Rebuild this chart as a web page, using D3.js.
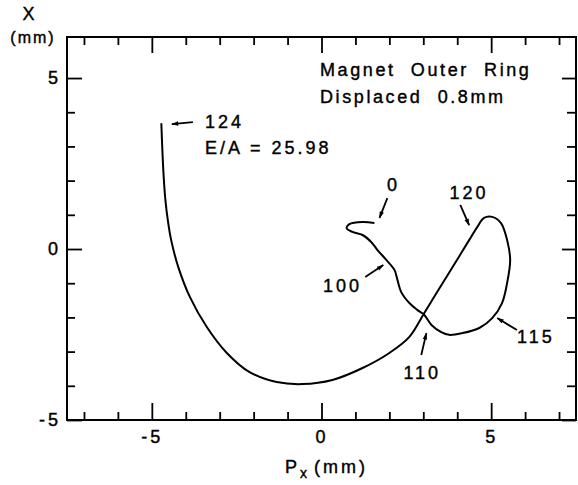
<!DOCTYPE html>
<html>
<head>
<meta charset="utf-8">
<script src="https://cdn.jsdelivr.net/npm/d3@7"></script>
<style>
  html, body { margin: 0; padding: 0; background: #fff; }
  svg text { font-family: "Liberation Sans", Arial, sans-serif; fill: #000; letter-spacing: 3px;
             stroke: #000; stroke-width: 0.4px; }
</style>
</head>
<body>
<svg id="chart" width="578" height="485"></svg>
<script>
// ---- data ----
const trajPx = [1.56, 1.21, 0.82, 0.74, 0.91, 1.21, 1.47, 1.65, 1.91, 2.15, 2.24, 2.35, 2.59, 2.82, 3.03,
  3.24, 3.53, 3.76, 4.15, 4.65, 5.03, 5.32, 5.47, 5.56, 5.47, 5.29, 5.03, 4.79, 4.59, 4.35,
  3.85, 3.38, 3.03, 2.59, 2.00, 1.21, 0.32, -0.56, -1.32, -2.12, -2.79, -3.38, -3.88, -4.22,
  -4.43, -4.53, -4.60, -4.65, -4.69, -4.72];
const trajX = [0.76, 0.79, 0.73, 0.61, 0.50, 0.41, 0.20, -0.03, -0.32, -0.61, -0.91, -1.26, -1.58, -1.78, -1.93,
  -2.22, -2.43, -2.51, -2.46, -2.31, -2.02, -1.58, -0.99, -0.32, 0.26, 0.76, 0.94, 0.91, 0.64, 0.26,
  -0.55, -1.30, -1.87, -2.57, -3.04, -3.48, -3.83, -3.95, -3.89, -3.60, -3.04, -2.28, -1.40, -0.53,
  0.26, 0.85, 1.43, 2.10, 2.90, 3.68];

const xTicks = [-7, -6, -5, -4, -3, -2, -1, 0, 1, 2, 3, 4, 5, 6, 7];
const yTicks = [-5, -4, -3, -2, -1, 0, 1, 2, 3, 4, 5];
const majorTicks = [-5, 0, 5];

// time-step annotations: label, label centre, arrow tail, arrow head (data units)
const annLabels = ["0", "120", "100", "110", "115"];
const annLabelPx = [2.12, 4.35, 0.62, 2.97, 6.32];
const annLabelX  = [1.87, 1.64, -1.08, -3.63, -2.57];
const annFromPx  = [1.94, 4.09, 1.29, 2.94, 5.76];
const annFromX   = [1.49, 1.29, -0.82, -3.10, -2.37];
const annToPx    = [1.71, 4.35, 1.82, 3.09, 5.18];
const annToX     = [0.91, 0.70, -0.47, -2.46, -2.02];

const endLabel = "124";
const endText = "E/A = 25.98";
const endArrowFrom = [-3.79, 3.71];
const endArrowTo = [-4.41, 3.65];
const titleLines = ["Magnet  Outer  Ring", "Displaced  0.8mm"];

// ---- layout ----
const svg = d3.select("#chart");
const x = d3.scaleLinear().domain([-7.5, 7.5]).range([67, 576]);
const y = d3.scaleLinear().domain([-5, 6.2]).range([420, 37]);
const fmt = d => majorTicks.includes(d) ? (d < 0 ? "-" + Math.abs(d) : String(d)) : "";

svg.append("defs").append("marker")
  .attr("id", "ah").attr("viewBox", "0 0 10 10").attr("refX", 9).attr("refY", 5)
  .attr("markerWidth", 8).attr("markerHeight", 7).attr("markerUnits", "userSpaceOnUse")
  .attr("orient", "auto")
  .append("path").attr("d", "M0,1.8 L10,5 L0,8.2 Z").attr("fill", "#000");

function styleAxis(g) {
  g.select(".domain").remove();
  g.selectAll(".tick line").attr("stroke", "#000").attr("stroke-width", 1.8);
  g.selectAll("text").style("font-size", "18px").attr("fill", "#000");
}

// bottom
const gB = svg.append("g").attr("transform", `translate(0,${y(-5)})`)
  .call(d3.axisBottom(x).tickValues(xTicks).tickSize(-8).tickPadding(10).tickFormat(fmt));
styleAxis(gB);
gB.selectAll(".tick line").filter(d => majorTicks.includes(d)).attr("y2", -17);
// top
const gT = svg.append("g").attr("transform", `translate(0,${y(6.2)})`)
  .call(d3.axisTop(x).tickValues(xTicks).tickSize(-8).tickFormat(""));
styleAxis(gT);
gT.selectAll(".tick line").filter(d => majorTicks.includes(d)).attr("y2", 16);
// left
const gL = svg.append("g").attr("transform", `translate(${x(-7.5)},0)`)
  .call(d3.axisLeft(y).tickValues(yTicks).tickSize(-8).tickPadding(6).tickFormat(fmt));
styleAxis(gL);
gL.selectAll(".tick line").filter(d => majorTicks.includes(d)).attr("x2", 15);
// right
const gR = svg.append("g").attr("transform", `translate(${x(7.5)},0)`)
  .call(d3.axisRight(y).tickValues(yTicks).tickSize(-9).tickFormat(""));
styleAxis(gR);
gR.selectAll(".tick line").filter(d => majorTicks.includes(d)).attr("x2", -14);

// frame
svg.append("rect").attr("x", x(-7.5)).attr("y", y(6.2))
  .attr("width", x(7.5) - x(-7.5)).attr("height", y(-5) - y(6.2))
  .attr("fill", "none").attr("stroke", "#000").attr("stroke-width", 2);

// axis titles
svg.append("text").attr("x", 30).attr("y", 20).attr("text-anchor", "middle")
  .style("font-size", "18px").text("X");
svg.append("text").attr("x", 33).attr("y", 43).attr("text-anchor", "middle")
  .style("font-size", "16px").style("letter-spacing", "2px").text("(mm)");
const xt = svg.append("text").attr("x", 285).attr("y", 473).style("font-size", "18px");
xt.append("tspan").text("P");
xt.append("tspan").attr("dy", 5).style("font-size", "14px").text("x");
xt.append("tspan").attr("dy", -5).attr("dx", 4).text("(mm)");

// curve
const pts = trajPx.map((p, i) => [p, trajX[i]]);
svg.append("path").datum(pts)
  .attr("d", d3.line().x(d => x(d[0])).y(d => y(d[1])).curve(d3.curveCatmullRom.alpha(0.5)))
  .attr("fill", "none").attr("stroke", "#000").attr("stroke-width", 2);

// annotations
annLabels.forEach((lab, i) => {
  svg.append("text").attr("x", x(annLabelPx[i])).attr("y", y(annLabelX[i]))
    .attr("text-anchor", "middle").attr("dominant-baseline", "central")
    .style("font-size", "18px").text(lab);
  svg.append("line")
    .attr("x1", x(annFromPx[i])).attr("y1", y(annFromX[i]))
    .attr("x2", x(annToPx[i])).attr("y2", y(annToX[i]))
    .attr("stroke", "#000").attr("stroke-width", 1.8).attr("marker-end", "url(#ah)");
});
svg.append("line")
  .attr("x1", x(endArrowFrom[0])).attr("y1", y(endArrowFrom[1]))
  .attr("x2", x(endArrowTo[0])).attr("y2", y(endArrowTo[1]))
  .attr("stroke", "#000").attr("stroke-width", 1.8).attr("marker-end", "url(#ah)");
svg.append("text").attr("x", 205).attr("y", 128).style("font-size", "18px").text(endLabel);
svg.append("text").attr("x", 205).attr("y", 154).style("font-size", "18px").text(endText);

titleLines.forEach((t, i) => {
  svg.append("text").attr("x", 320).attr("y", 76 + i * 27)
    .style("font-size", "18px").style("letter-spacing", "2.6px").style("white-space", "pre")
    .attr("xml:space", "preserve").text(t);
});
</script>
</body>
</html>
